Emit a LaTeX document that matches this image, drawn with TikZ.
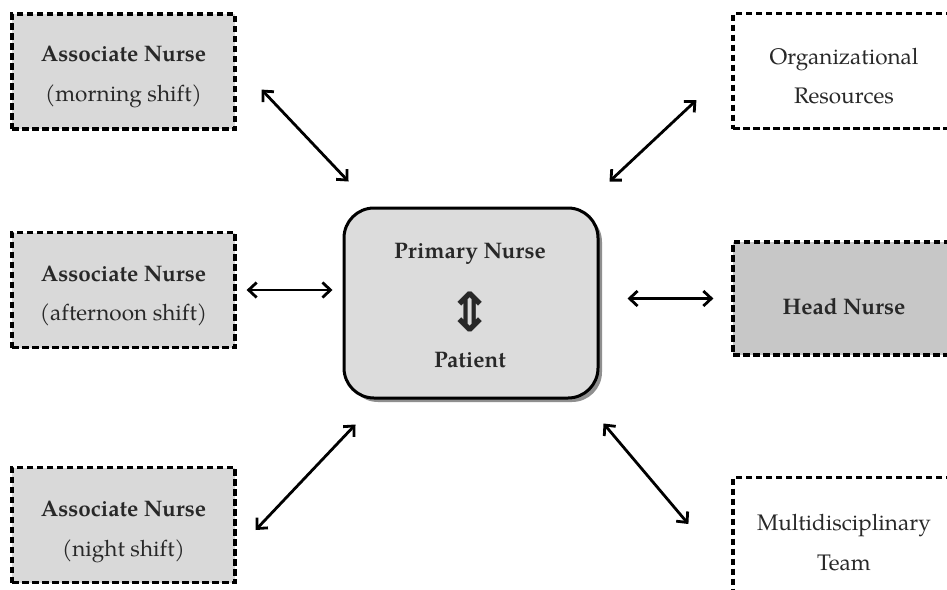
\documentclass[tikz,border=0pt]{standalone}
\usepackage{fontspec}
\setmainfont{TeX Gyre Pagella}
\newfontfamily\symfont{DejaVu Sans}
\usetikzlibrary{arrows.meta,shadows}
\definecolor{lightfill}{RGB}{217,217,217}
\definecolor{headfill}{RGB}{199,199,199}
\definecolor{ctrfill}{RGB}{220,220,220}
\definecolor{txt}{RGB}{40,40,40}
\newcommand\lowr[1]{\rule{0pt}{#1pt}}
\tikzset{
  dbox/.style={draw=black, line width=3.2pt, dash pattern=on 6.5pt off 3.5pt,
    minimum width=223pt, minimum height=115pt, inner sep=0pt,
    align=center, text=txt, font=\fontsize{22.5}{39.5}\selectfont},
  ctrbox/.style={draw=black, line width=3pt, rounded corners=30pt, fill=ctrfill,
    minimum width=254pt, minimum height=190pt,
    drop shadow={shadow xshift=4pt, shadow yshift=-4pt, fill=black!55, opacity=0.8}},
  btxt/.style={text=txt, font=\fontsize{22.5}{26}\selectfont\bfseries},
  link/.style={line width=2.8pt, {Straight Barb[length=8pt,width=15pt]}-{Straight Barb[length=8pt,width=15pt]}}
}
\begin{document}
\begin{tikzpicture}[x=1pt,y=-1pt]
\useasboundingbox (0,0) rectangle (947,589);
\clip (0,0) rectangle (947,589);
\fill[white] (0,0) rectangle (947,589);

\node[dbox, fill=lightfill] (mor) at (123.5,71.5) {\lowr{26}\textbf{Associate Nurse}\\(morning shift)};
\node[dbox, fill=lightfill] (aft) at (123.5,290) {\lowr{27}\textbf{Associate Nurse}\\(afternoon shift)};
\node[dbox, fill=lightfill] (nig) at (123.5,525) {\lowr{29}\textbf{Associate Nurse}\\(night shift)};
\node[dbox, fill=white, minimum width=222pt] (org) at (844,71) {\lowr{26}Organizational\\Resources};
\node[dbox, fill=headfill, minimum width=222pt, minimum height=113pt] (head) at (844,298.5) {\lowr{33}\textbf{Head Nurse}};
\node[dbox, fill=white, minimum width=222pt] (mul) at (844,535) {\lowr{31}Multidisciplinary\\Team};

\node[ctrbox] (ctr) at (471,303) {};
\node[btxt] (pn) at (470,254) {Primary Nurse};
\node[text=txt, font=\symfont\fontsize{54}{54}\selectfont\bfseries] (ud) at (470,312) {⇕};
\node[btxt] (pt) at (470,360) {Patient};

\draw[link] ([shift={(25,-41)}]mor.south east) -- ([shift={(6,-25)}]ctr.north west);
\draw[link] ([shift={(-35,-30)}]org.south west) -- ([shift={(10,-25)}]ctr.north east);
\draw[link] ([shift={(10,0)}]aft.east) -- ([shift={(-10,0)}]ctr.west |- aft.east);
\draw[link] ([shift={(28,0)}]ctr.east |- head.west) -- ([shift={(-18,0)}]head.west);
\draw[link] ([shift={(19,5)}]nig.east) -- ([shift={(13,25)}]ctr.south west);
\draw[link] ([shift={(4,24)}]ctr.south east) -- ([shift={(-43,-11)}]mul.west);
\end{tikzpicture}
\end{document}
